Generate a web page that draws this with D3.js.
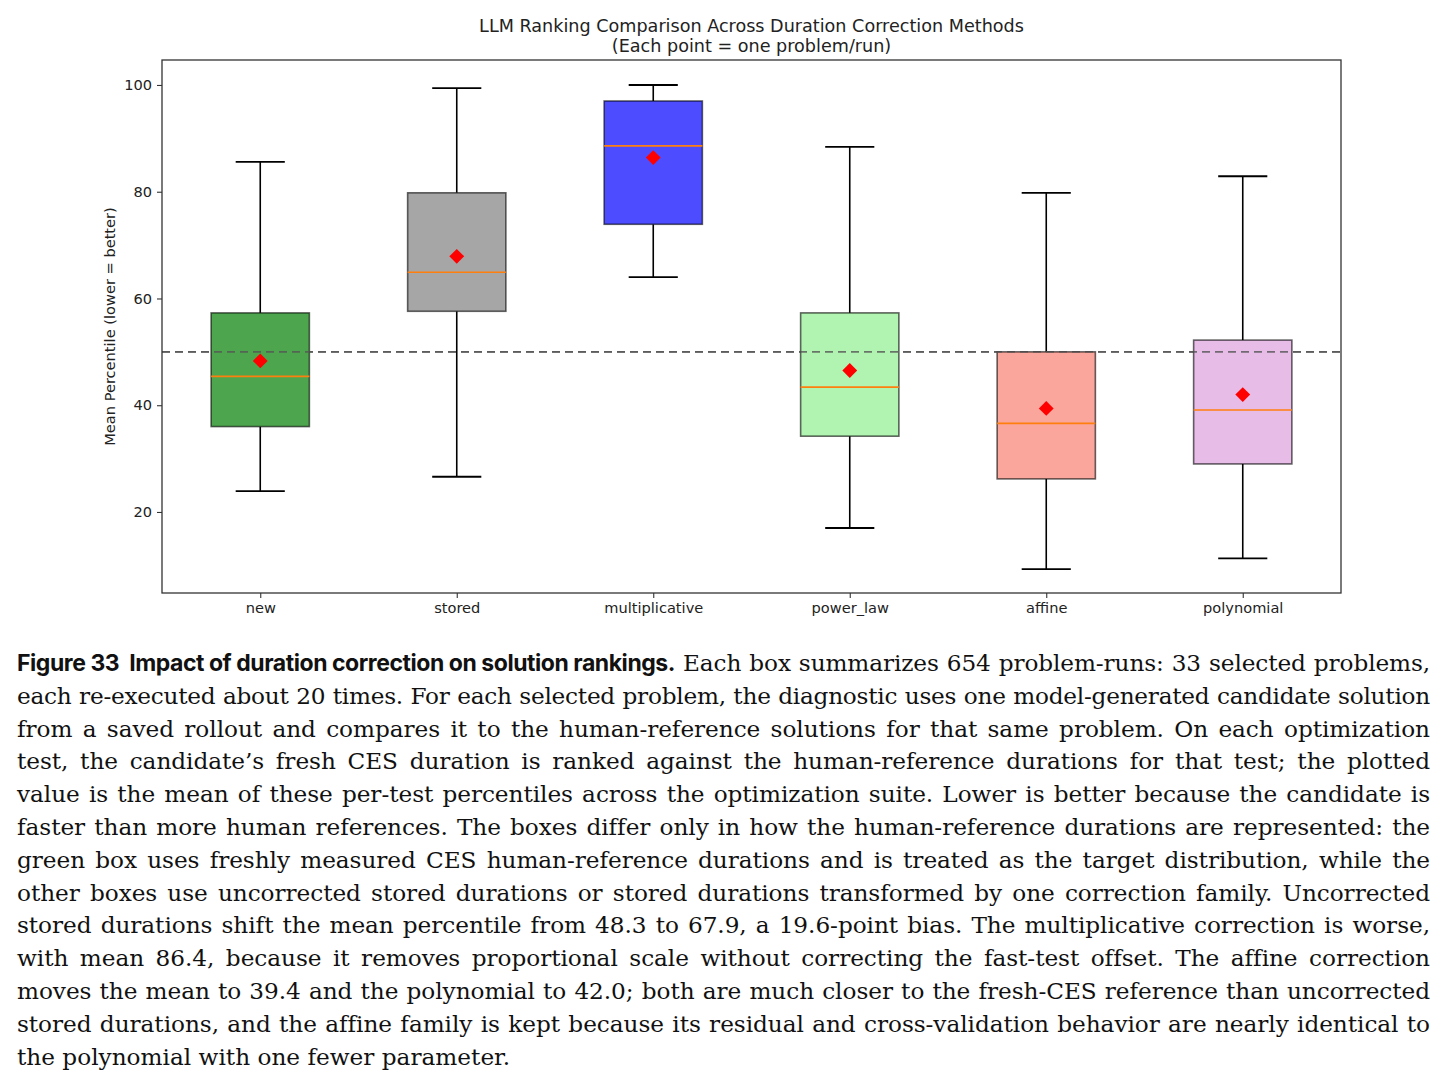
<!DOCTYPE html>
<html>
<head>
<meta charset="utf-8">
<script src="https://cdn.jsdelivr.net/npm/d3@7"></script>
<style>
  body { margin: 0; background: #fff; width: 1447px; height: 1085px; overflow: hidden; position: relative; }
  #caption { position: absolute; left: 17px; top: 647px; width: 1413px; font-family: "DejaVu Serif", serif; font-size: 23.2px; color: #111; }
  #caption .ln { height: 32.8px; line-height: 32.8px; text-align: justify; text-align-last: justify; white-space: nowrap; }
  #caption .ln.last { text-align-last: left; }
  #caption b { display: inline-block; font-family: Inter, "Open Sans", sans-serif; font-weight: 700; font-size: 23px; letter-spacing: -0.45px; }
</style>
</head>
<body>
<svg id="chart" width="1447" height="640"></svg>
<div id="caption"></div>
<script>
// box stats
const categories = ['new', 'stored', 'multiplicative', 'power_law', 'affine', 'polynomial'];
const whiskerLow = [23.9, 26.6, 64.0, 17.0, 9.3, 11.3];
const q1 = [36.0, 57.6, 73.9, 34.2, 26.2, 29.0];
const medians = [45.4, 64.9, 88.6, 43.4, 36.6, 39.1];
const q3 = [57.3, 79.8, 97.0, 57.3, 50.0, 52.2];
const whiskerHigh = [85.6, 99.4, 100.0, 88.4, 79.8, 82.9];
const means = [48.3, 67.9, 86.4, 46.5, 39.4, 42.0];
const fills = ['#4da64d', '#a6a6a6', '#4d4dff', '#b1f4b1', '#fba69c', '#e7bce7'];
const yTicks = [20, 40, 60, 80, 100];
const refLine = 50;

const captionLines = [
  'Each box summarizes 654 problem-runs: 33 selected problems,',
  'each re-executed about 20 times. For each selected problem, the diagnostic uses one model-generated candidate solution',
  'from a saved rollout and compares it to the human-reference solutions for that same problem. On each optimization',
  'test, the candidate\u2019s fresh CES duration is ranked against the human-reference durations for that test; the plotted',
  'value is the mean of these per-test percentiles across the optimization suite. Lower is better because the candidate is',
  'faster than more human references. The boxes differ only in how the human-reference durations are represented: the',
  'green box uses freshly measured CES human-reference durations and is treated as the target distribution, while the',
  'other boxes use uncorrected stored durations or stored durations transformed by one correction family. Uncorrected',
  'stored durations shift the mean percentile from 48.3 to 67.9, a 19.6-point bias. The multiplicative correction is worse,',
  'with mean 86.4, because it removes proportional scale without correcting the fast-test offset. The affine correction',
  'moves the mean to 39.4 and the polynomial to 42.0; both are much closer to the fresh-CES reference than uncorrected',
  'stored durations, and the affine family is kept because its residual and cross-validation behavior are nearly identical to',
  'the polynomial with one fewer parameter.'
];

const boxes = categories.map((c, i) => ({
  name: c, i: i + 1, lo: whiskerLow[i], q1: q1[i], med: medians[i],
  q3: q3[i], hi: whiskerHigh[i], mean: means[i], fill: fills[i]
}));

const plot = { left: 162, right: 1341, top: 60, bottom: 593 };
const font = 'DejaVu Sans, sans-serif';

const x = d3.scaleLinear().domain([0.5, 6.5]).range([plot.left, plot.right]);
const y = d3.scaleLinear().domain([4.82, 104.68]).range([plot.bottom, plot.top]);
const boxW = x(1.25) - x(1);   // half width of box
const capW = boxW / 2;

const svg = d3.select('#chart');

// title
svg.append('text')
  .attr('x', (plot.left + plot.right) / 2).attr('y', 32)
  .attr('text-anchor', 'middle').attr('font-family', font).attr('font-size', 17.6)
  .attr('fill', '#222')
  .text('LLM Ranking Comparison Across Duration Correction Methods');
svg.append('text')
  .attr('x', (plot.left + plot.right) / 2).attr('y', 52)
  .attr('text-anchor', 'middle').attr('font-family', font).attr('font-size', 17.6)
  .attr('fill', '#222')
  .text('(Each point = one problem/run)');

const dashed = () => svg.append('line')
  .attr('x1', plot.left).attr('x2', plot.right)
  .attr('y1', y(refLine)).attr('y2', y(refLine))
  .attr('stroke', '#555').attr('stroke-opacity', 0.8).attr('stroke-width', 1.8)
  .attr('stroke-dasharray', '8,5');

dashed();

const g = svg.selectAll('g.box').data(boxes).enter().append('g').attr('class', 'box');

// whiskers
g.append('line')
  .attr('x1', d => x(d.i)).attr('x2', d => x(d.i))
  .attr('y1', d => y(d.hi)).attr('y2', d => y(d.q3))
  .attr('stroke', '#000').attr('stroke-width', 1.6);
g.append('line')
  .attr('x1', d => x(d.i)).attr('x2', d => x(d.i))
  .attr('y1', d => y(d.q1)).attr('y2', d => y(d.lo))
  .attr('stroke', '#000').attr('stroke-width', 1.6);
g.append('line')
  .attr('x1', d => x(d.i) - capW).attr('x2', d => x(d.i) + capW)
  .attr('y1', d => y(d.hi)).attr('y2', d => y(d.hi))
  .attr('stroke', '#000').attr('stroke-width', 1.8);
g.append('line')
  .attr('x1', d => x(d.i) - capW).attr('x2', d => x(d.i) + capW)
  .attr('y1', d => y(d.lo)).attr('y2', d => y(d.lo))
  .attr('stroke', '#000').attr('stroke-width', 1.8);

// box
g.append('rect')
  .attr('x', d => x(d.i) - boxW).attr('width', boxW * 2)
  .attr('y', d => y(d.q3)).attr('height', d => y(d.q1) - y(d.q3))
  .attr('fill', d => d.fill)
  .attr('stroke', '#000').attr('stroke-opacity', 0.6).attr('stroke-width', 1.6);

// dashed line again on top of the boxes
dashed();

// median
g.append('line')
  .attr('x1', d => x(d.i) - boxW).attr('x2', d => x(d.i) + boxW)
  .attr('y1', d => y(d.med)).attr('y2', d => y(d.med))
  .attr('stroke', '#ff7f0e').attr('stroke-width', 1.6);

// mean diamonds
g.append('path')
  .attr('d', d3.symbol().type(d3.symbolSquare).size(110))
  .attr('transform', d => `translate(${x(d.i)},${y(d.mean)}) rotate(45)`)
  .attr('fill', '#ff0000');

// axes
const yAxis = svg.append('g')
  .attr('transform', `translate(${plot.left},0)`)
  .call(d3.axisLeft(y).tickValues(yTicks).tickSize(5).tickPadding(5));
const xAxis = svg.append('g')
  .attr('transform', `translate(0,${plot.bottom})`)
  .call(d3.axisBottom(x).tickValues(d3.range(1, 7)).tickFormat(i => categories[i - 1]).tickSize(5).tickPadding(5));
[yAxis, xAxis].forEach(a => {
  a.select('.domain').remove();
  a.selectAll('text').attr('font-family', font).attr('font-size', 14.6).attr('fill', '#222');
  a.selectAll('line').attr('stroke', '#333').attr('stroke-width', 1.1);
});

// frame
svg.append('rect')
  .attr('x', plot.left).attr('y', plot.top)
  .attr('width', plot.right - plot.left).attr('height', plot.bottom - plot.top)
  .attr('fill', 'none').attr('stroke', '#333').attr('stroke-width', 1.3);

// y label
svg.append('text')
  .attr('transform', `translate(115,${(plot.top + plot.bottom) / 2}) rotate(-90)`)
  .attr('text-anchor', 'middle').attr('font-family', font).attr('font-size', 14.6)
  .attr('fill', '#222')
  .text('Mean Percentile (lower = better)');

// caption, one div per line, squeezed a little if a line runs too long
const cap = d3.select('#caption');
const capWidth = 1413;
captionLines.forEach((t, i) => {
  const ln = cap.append('div').attr('class', 'ln' + (i === captionLines.length - 1 ? ' last' : ''));
  const inner = ln.append('span');
  if (i === 0) {
    inner.append('b').text('Figure 33\u00a0\u00a0Impact of duration correction on solution rankings.');
    inner.append('span').text(' ' + t);
  } else {
    inner.text(t);
  }
  const w = inner.node().getBoundingClientRect().width;
  if (w > capWidth - 6) {
    const over = w - (capWidth - 6);
    ln.style('letter-spacing', (-over / t.length).toFixed(3) + 'px');
  }
  // unwrap so justification applies to the line box
  const node = inner.node();
  while (node.firstChild) ln.node().insertBefore(node.firstChild, node);
  node.remove();
});
</script>
</body>
</html>
